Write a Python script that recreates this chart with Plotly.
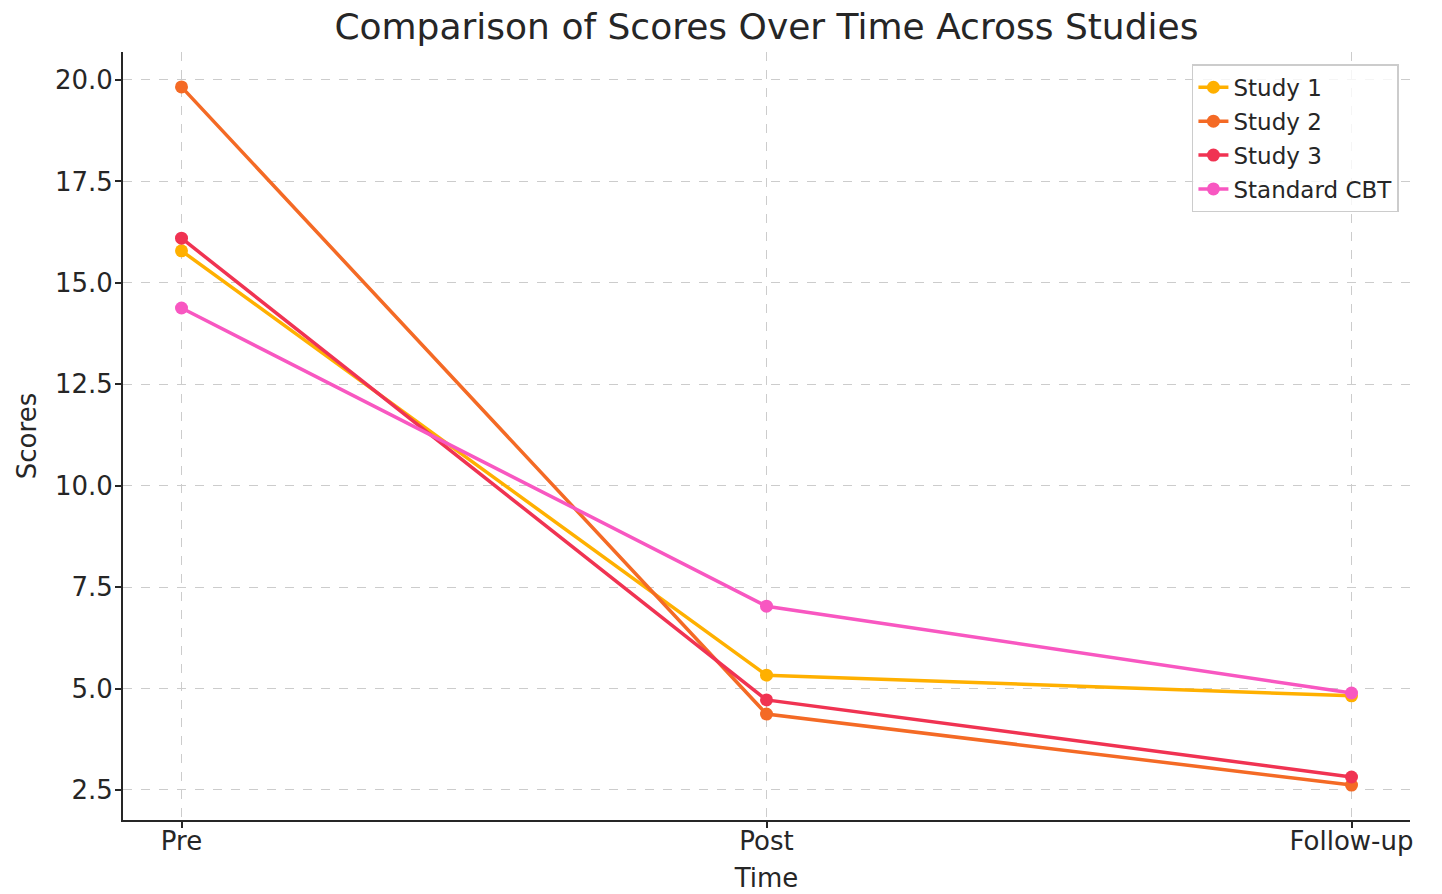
import plotly.graph_objects as go

# Time points and scores per study
time_points = ["Pre", "Post", "Follow-up"]
study_1 = [15.79, 5.33, 4.82]
study_2 = [19.83, 4.37, 2.62]
study_3 = [16.10, 4.72, 2.82]
standard_cbt = [14.38, 7.03, 4.89]

series = [
    ("Study 1", study_1, "#FFB000"),
    ("Study 2", study_2, "#F46A25"),
    ("Study 3", study_3, "#F03352"),
    ("Standard CBT", standard_cbt, "#F857C1"),
]

fig = go.Figure()
for name, values, color in series:
    fig.add_trace(go.Scatter(
        x=list(range(len(time_points))), y=values, name=name,
        legendgroup=name,
        mode="lines+markers",
        line=dict(color=color, width=3.5),
        marker=dict(color=color, size=13),
    ))

font_family = "DejaVu Sans"
text_color = "#262626"
fig.update_layout(
    width=1442, height=894,
    margin=dict(l=123, r=32, t=52, b=74),
    plot_bgcolor="white", paper_bgcolor="white",
    font=dict(family=font_family, color=text_color, size=23),
    title=dict(text="Comparison of Scores Over Time Across Studies",
               x=0.5315, xanchor="center", y=0.97, yanchor="middle",
               font=dict(size=36, color=text_color)),
    legend=dict(x=0.9914, y=0.984, xanchor="right", yanchor="top",
                bgcolor="rgba(255,255,255,0.8)", bordercolor="#cccccc", borderwidth=1.5,
                font=dict(size=23, color=text_color), tracegroupgap=1),
    showlegend=True,
)
fig.update_xaxes(
    range=[-0.1, 2.1], tickmode="array", tickvals=list(range(len(time_points))),
    ticktext=time_points, showline=True, linecolor=text_color, linewidth=2,
    ticks="outside", ticklen=6, tickwidth=1.5, tickcolor=text_color,
    showgrid=True, gridcolor="#cccccc", griddash="dash", gridwidth=1,
    zeroline=False, tickfont=dict(size=26), automargin=False,
    ticklabelstandoff=-9,
    title=dict(text="Time", standoff=14, font=dict(size=26)),
)
fig.update_yaxes(
    range=[1.76, 20.69], tickmode="array",
    tickvals=[2.5, 5.0, 7.5, 10.0, 12.5, 15.0, 17.5, 20.0],
    ticktext=["2.5", "5.0", "7.5", "10.0", "12.5", "15.0", "17.5", "20.0"],
    showline=True, linecolor=text_color, linewidth=2,
    ticks="outside", ticklen=6, tickwidth=1.5, tickcolor=text_color,
    showgrid=True, gridcolor="#cccccc", griddash="dash", gridwidth=1,
    zeroline=False, tickfont=dict(size=26), automargin=False,
    ticklabelstandoff=-3,
    title=dict(text="Scores", standoff=11, font=dict(size=26)),
)

fig.write_html("out.html")
